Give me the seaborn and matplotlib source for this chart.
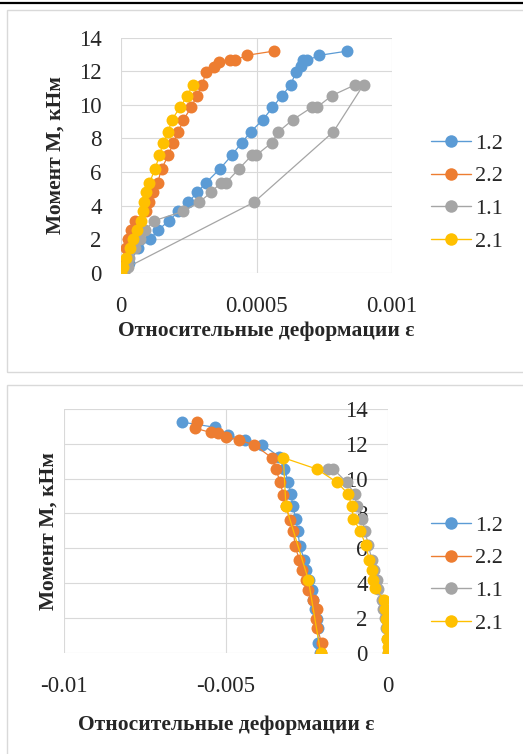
import pandas as pd
import numpy as np
import matplotlib
matplotlib.use('Agg')
import matplotlib.pyplot as plt
import seaborn as sns
from matplotlib.lines import Line2D
from matplotlib.patches import Rectangle

# series names and Excel-like colours
series_names = ['1.2', '2.2', '1.1', '2.1']
series_colors = ['#5B9BD5', '#ED7D31', '#A5A5A5', '#FFC000']

# ---- top chart: (strain, moment) per series ----
top_12_eps = [0.000005, 0.00003, 0.000064, 0.000107, 0.000138, 0.000177, 0.000212, 0.000249, 0.000282,
              0.000313, 0.000366, 0.000409, 0.000446, 0.000479, 0.000523, 0.000559, 0.000594, 0.000627,
              0.000645, 0.000665, 0.00067, 0.000688, 0.000732, 0.000834]
top_12_M = [0, 0.6, 1.45, 2.0, 2.55, 3.1, 3.65, 4.2, 4.8, 5.35, 6.2, 7.0, 7.75, 8.4, 9.1, 9.85, 10.55, 11.2,
            11.95, 12.3, 12.65, 12.65, 12.95, 13.2]

top_22_eps = [0, 0.000002, 0.000017, 0.000025, 0.000037, 0.000052, 0.000091, 0.000105, 0.000119, 0.000135,
              0.00015, 0.000175, 0.000193, 0.000212, 0.00023, 0.000259, 0.00028, 0.0003, 0.000313, 0.000344,
              0.00036, 0.000403, 0.000421, 0.000464, 0.000563]
top_22_M = [0, 0.55, 1.45, 2.0, 2.55, 3.1, 3.65, 4.2, 4.8, 5.35, 6.2, 7.0, 7.75, 8.4, 9.1, 9.85, 10.55, 11.2,
            11.95, 12.25, 12.55, 12.65, 12.65, 12.95, 13.2]

top_11_eps = [0.00001, 0.00003, 0.00005, 0.00007, 0.00009, 0.000123, 0.000228, 0.000289, 0.000333, 0.000368,
              0.000387, 0.000436, 0.000483, 0.000499, 0.000557, 0.000581, 0.000633, 0.000704, 0.000723,
              0.000778, 0.000865, 0.000895, 0.000784, 0.000491, 0.000027]
top_11_M = [0, 0.85, 1.45, 2.0, 2.55, 3.1, 3.65, 4.2, 4.8, 5.35, 5.35, 6.2, 7.0, 7.0, 7.75, 8.4, 9.1, 9.85,
            9.85, 10.55, 11.2, 11.2, 8.4, 4.2, 0.35]

top_21_eps = [0, 0.000009, 0.000018, 0.000033, 0.000046, 0.000058, 0.000074, 0.00008, 0.000085, 0.000091,
              0.000105, 0.000126, 0.000142, 0.000156, 0.000175, 0.000187, 0.000218, 0.000245, 0.000265]
top_21_M = [0, 0.35, 0.85, 1.45, 2.0, 2.55, 3.1, 3.65, 4.2, 4.8, 5.35, 6.2, 7.0, 7.75, 8.4, 9.1, 9.85, 10.55,
            11.2]

# ---- bottom chart ----
bot_12_eps = [-0.0021, -0.00215, -0.00217, -0.0022, -0.00225, -0.0023, -0.00236, -0.00244, -0.00254,
              -0.00259, -0.00272, -0.00279, -0.00284, -0.00294, -0.00299, -0.00308, -0.0032, -0.00335,
              -0.00388, -0.00441, -0.00493, -0.00534, -0.00637]
bot_12_M = [0, 0.57, 1.4, 1.95, 2.5, 3.05, 3.6, 4.15, 4.75, 5.35, 6.15, 7.0, 7.7, 8.4, 9.1, 9.8, 10.55, 11.25,
            11.95, 12.2, 12.5, 12.95, 13.25]

bot_22_eps = [-0.00208, -0.00205, -0.00218, -0.00222, -0.00218, -0.00233, -0.00246, -0.00252, -0.00266,
              -0.00274, -0.00287, -0.00292, -0.00302, -0.00316, -0.00323, -0.00333, -0.00346, -0.00359,
              -0.00413, -0.00459, -0.005, -0.00524, -0.00547, -0.00596, -0.00588]
bot_22_M = [0, 0.57, 1.4, 1.95, 2.5, 3.05, 3.6, 4.15, 4.75, 5.35, 6.15, 7.0, 7.65, 8.4, 9.05, 9.8, 10.55, 11.2,
            11.95, 12.2, 12.4, 12.6, 12.65, 12.9, 13.25]

bot_11_eps = [0, -0.00002, -0.00005, -0.0001, -0.00016, -0.0002, -0.0003, -0.00035, -0.00042, -0.0005,
              -0.00061, -0.00071, -0.00081, -0.00097, -0.00102, -0.00128, -0.00169, -0.00184]
bot_11_M = [0, 0.8, 1.4, 2.0, 2.5, 3.05, 3.65, 4.2, 4.75, 5.35, 6.2, 7.0, 7.7, 8.4, 9.1, 9.8, 10.55, 10.55]

bot_21_eps = [0, -0.00001, -0.00002, -0.00004, -0.00006, -0.00009, -0.00012, -0.0004, -0.00045, -0.0005,
              -0.00058, -0.00069, -0.00086, -0.00107, -0.00112, -0.00122, -0.00158, -0.0022, -0.00323,
              -0.00315, -0.00246, -0.00208]
bot_21_M = [0, 0.35, 0.8, 1.4, 1.95, 2.5, 3.05, 3.7, 4.2, 4.75, 5.35, 6.2, 7.0, 7.7, 8.4, 9.1, 9.8, 10.55, 11.2,
            8.4, 4.2, 0]

# ticks
y_ticks = [0, 2, 4, 6, 8, 10, 12, 14]
top_x_ticks = [0, 0.0005, 0.001]
top_x_labels = ['0', '0.0005', '0.001']
bot_x_ticks = [-0.01, -0.005, 0]
bot_x_labels = ['-0.01', '-0.005', '0']

x_title = 'Относительные деформации ε'
y_title = 'Момент М, кНм'


def make_df(pairs):
    frames = []
    for name, eps, m in pairs:
        frames.append(pd.DataFrame({'eps': eps, 'M': m, 'series': name}))
    return pd.concat(frames, ignore_index=True)


top_df = make_df([('1.2', top_12_eps, top_12_M), ('2.2', top_22_eps, top_22_M),
                  ('1.1', top_11_eps, top_11_M), ('2.1', top_21_eps, top_21_M)])
bot_df = make_df([('1.2', bot_12_eps, bot_12_M), ('2.2', bot_22_eps, bot_22_M),
                  ('1.1', bot_11_eps, bot_11_M), ('2.1', bot_21_eps, bot_21_M)])

sns.set_style('white')
plt.rcParams['font.family'] = ['Liberation Serif', 'DejaVu Serif']

W, H = 523, 754
fig = plt.figure(figsize=(W / 100, H / 100), dpi=100)

# page decorations: black rule and two light panel frames
fig.add_artist(Line2D([0, 1], [1 - 2.5 / H, 1 - 2.5 / H], color='black', lw=1.6, transform=fig.transFigure))
fig.add_artist(Rectangle((7 / W, 1 - 372 / H), 1.0, 362 / H, transform=fig.transFigure,
                         fill=False, edgecolor='#D9D9D9', lw=1))
fig.add_artist(Rectangle((7 / W, -0.01), 1.0, 1 - 385 / H + 0.01, transform=fig.transFigure,
                         fill=False, edgecolor='#D9D9D9', lw=1))

pal = dict(zip(series_names, series_colors))


def draw(ax, df):
    sns.lineplot(data=df, x='eps', y='M', hue='series', hue_order=series_names, palette=pal,
                 sort=False, estimator=None, marker='o', markersize=8.6, markeredgewidth=0,
                 linewidth=0.9, legend=False, ax=ax)
    for s in ax.spines.values():
        s.set_visible(False)
    ax.grid(True, color='#D9D9D9', lw=0.8)
    ax.set_axisbelow(True)
    ax.set_ylim(0, 14)
    ax.set_yticks(y_ticks)
    ax.tick_params(length=0, labelsize=16.5)


# ---- top panel ----
ax1 = fig.add_axes([121 / W, 1 - 272.7 / H, 271 / W, 235 / H])
draw(ax1, top_df)
ax1.set_xlim(0, 0.001)
ax1.set_xticks(top_x_ticks)
ax1.set_xticklabels(top_x_labels)
ax1.tick_params(axis='x', pad=17)
ax1.tick_params(axis='y', pad=14)
ax1.set_xlabel(x_title, fontsize=15.5, fontweight='bold')
ax1.set_ylabel(y_title, fontsize=15.5, fontweight='bold')
ax1.xaxis.set_label_coords(0.535, -0.205)
ax1.yaxis.set_label_coords(-0.205, 0.5)

# ---- bottom panel ----
ax2 = fig.add_axes([64 / W, 1 - 652.7 / H, 324 / W, 243.7 / H])
draw(ax2, bot_df)
ax2.set_xlim(-0.01, 0)
ax2.set_xticks(bot_x_ticks)
ax2.set_xticklabels(bot_x_labels)
ax2.tick_params(axis='x', pad=17)
ax2.tick_params(axis='y', left=False, labelleft=False, right=False, labelright=True, pad=-14.5)
for t in ax2.get_yticklabels():
    t.set_ha('right')
ax2.set_xlabel(x_title, fontsize=15.5, fontweight='bold')
ax2.set_ylabel(y_title, fontsize=15.5, fontweight='bold')
ax2.yaxis.set_label_position('left')
ax2.xaxis.set_label_coords(0.5, -0.255)
ax2.yaxis.set_label_coords(-0.018, 0.5)

# legends
handles = [Line2D([0], [0], color=c, marker='o', markersize=9, markeredgewidth=0, lw=1)
           for c in series_colors]
fig.legend(handles, series_names, loc='center left', bbox_to_anchor=(411 / W, 1 - 192.5 / H),
           frameon=False, fontsize=16, handlelength=1.8, handletextpad=0.2, labelspacing=0.55)
fig.legend(handles, series_names, loc='center left', bbox_to_anchor=(411 / W, 1 - 574.5 / H),
           frameon=False, fontsize=16, handlelength=1.8, handletextpad=0.2, labelspacing=0.55)

fig.savefig('out.png', dpi=100)
